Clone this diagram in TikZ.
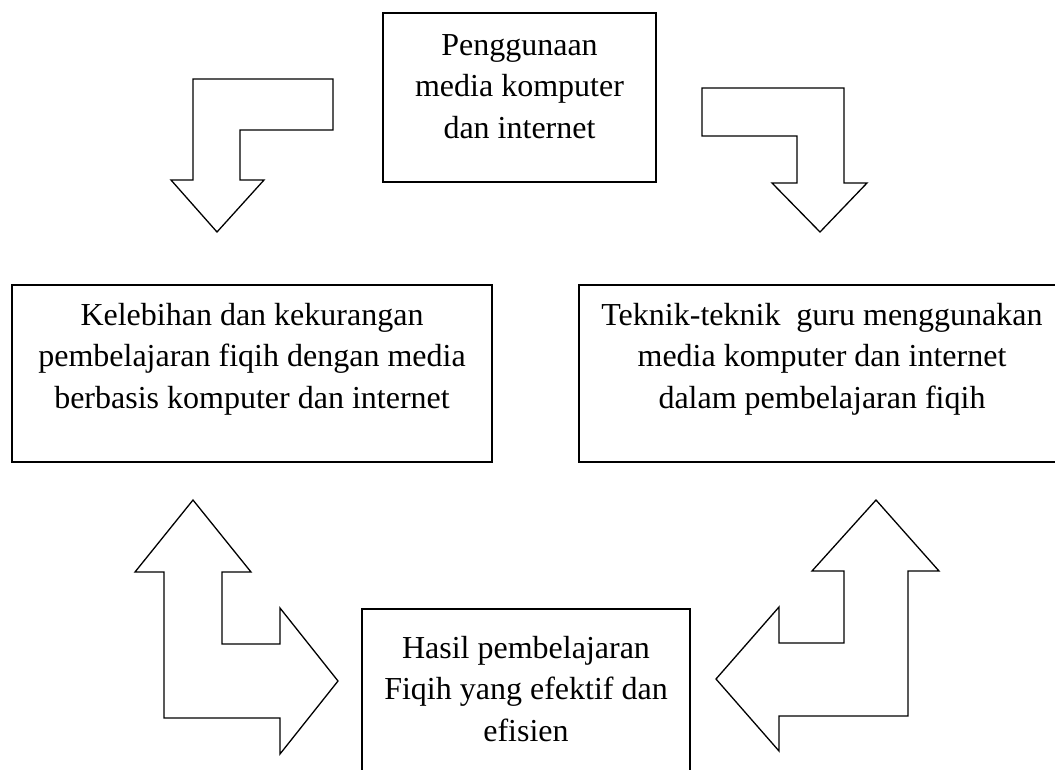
\documentclass[tikz,border=0pt]{standalone}
\usepackage{fontspec}
\setmainfont{Liberation Serif}
\begin{document}
\begin{tikzpicture}[x=1pt,y=-1pt,
  box/.style={draw, line width=1.6pt, inner sep=0pt},
  txt/.style={align=center, inner sep=0pt, anchor=base, font=\fontsize{32}{41.5}\selectfont},
  blockarrow/.style={draw, line width=1.3pt, line join=miter, fill=white}]
\clip (0,0) rectangle (1055,769);
\fill[white] (0,0) rectangle (1055,769);
% boxes
\node[box, minimum width=273pt, minimum height=169pt] (top) at (519.5,97.5) {};
\node[box, minimum width=480pt, minimum height=177pt] (left) at (252,373.5) {};
\node[box, minimum width=486pt, minimum height=177pt] (right) at (822,373.5) {};
\node[box, minimum width=328pt, minimum height=191pt] (bottom) at (526,704.5) {};
% texts (anchor = baseline of last line)
\node[txt] (toptext) at (519.5,138) {Penggunaan\\media komputer\\dan internet};
\node[txt] (lefttext) at (252,408) {Kelebihan dan kekurangan\\pembelajaran fiqih dengan media\\berbasis komputer dan internet};
\node[txt] (righttext) at (822,408) {Teknik-teknik\ \ guru menggunakan\\media komputer dan internet\\dalam pembelajaran fiqih};
\node[txt] (bottomtext) at (526,741) {Hasil pembelajaran\\Fiqih yang efektif dan\\efisien};
% block arrows
\draw[blockarrow] (193,79) -- (333,79) -- (333,130) -- (240,130) -- (240,180) -- (264,180) -- (217,232) -- (171,180) -- (193,180) -- cycle;
\draw[blockarrow] (702,88) -- (844,88) -- (844,183) -- (867,183) -- (820,232) -- (772,183) -- (797,183) -- (797,136) -- (702,136) -- cycle;
\draw[blockarrow] (193,500) -- (251,572) -- (222,572) -- (222,644) -- (280,644) -- (280,608) -- (338,681) -- (280,754) -- (280,718) -- (164,718) -- (164,572) -- (135,572) -- cycle;
\draw[blockarrow] (876,500) -- (939,571) -- (908,571) -- (908,716) -- (779,716) -- (779,751) -- (716,679) -- (779,607) -- (779,643) -- (844,643) -- (844,571) -- (812,571) -- cycle;
\end{tikzpicture}
\end{document}
